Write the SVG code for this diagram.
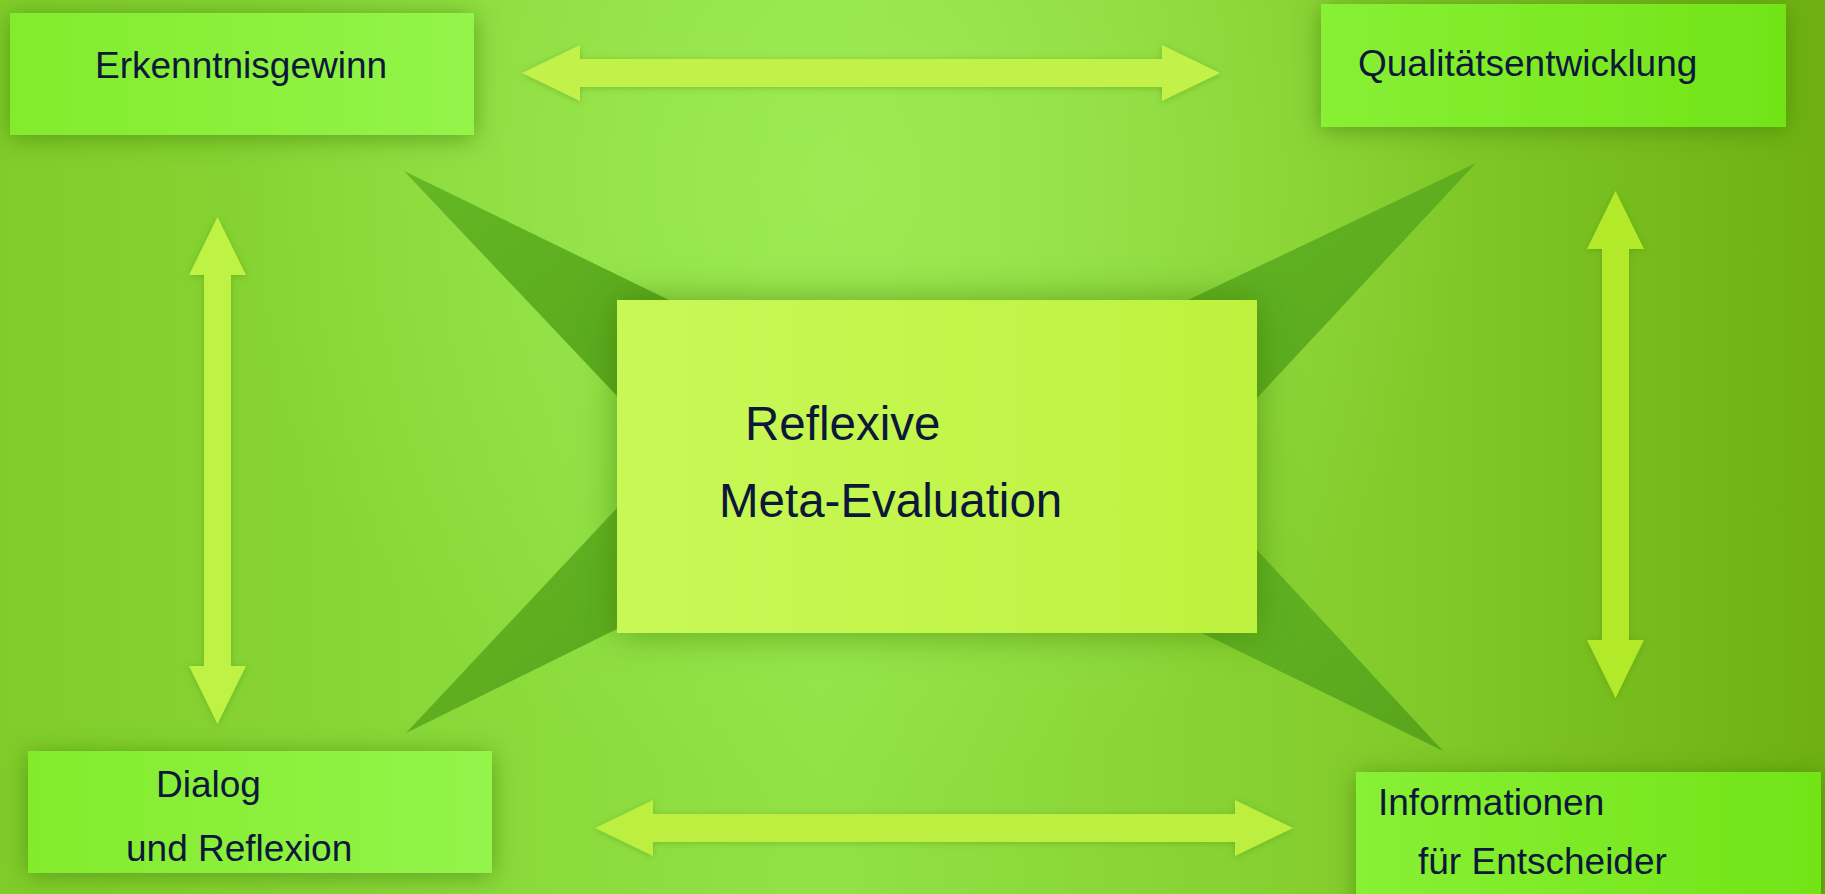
<svg xmlns="http://www.w3.org/2000/svg" width="1825" height="894" viewBox="0 0 1825 894">
<defs>
<style>
.lbl{font-family:"Liberation Sans",Arial,sans-serif;font-size:37px;fill:#0b1838}
.big{font-family:"Liberation Sans",Arial,sans-serif;font-size:47.5px;fill:#0b1838}
.nodeL{fill:url(#nodeGL);filter:url(#sh)}
.nodeR{fill:url(#nodeGR);filter:url(#sh)}
.spike{fill:url(#spikeG)}
</style>
<linearGradient id="bgH" x1="0" y1="0" x2="1" y2="0">
<stop offset="0" stop-color="#80cc2a"/>
<stop offset="0.45" stop-color="#92e246"/>
<stop offset="0.75" stop-color="#84cc2c"/>
<stop offset="1" stop-color="#6eb012"/>
</linearGradient>
<radialGradient id="bgR" cx="850" cy="180" r="620" gradientUnits="userSpaceOnUse">
<stop offset="0" stop-color="#a2ee5a" stop-opacity="0.7"/>
<stop offset="1" stop-color="#a2ee5a" stop-opacity="0"/>
</radialGradient>
<linearGradient id="nodeGL" x1="0" y1="0" x2="1" y2="0">
<stop offset="0" stop-color="#82ec2c"/>
<stop offset="1" stop-color="#94f44a"/>
</linearGradient>
<linearGradient id="nodeGR" x1="0" y1="0" x2="1" y2="0">
<stop offset="0" stop-color="#88f034"/>
<stop offset="1" stop-color="#72e418"/>
</linearGradient>
<linearGradient id="centerG" x1="0" y1="0" x2="1" y2="0">
<stop offset="0" stop-color="#c8f858"/>
<stop offset="1" stop-color="#bef23e"/>
</linearGradient>
<linearGradient id="spikeG" x1="0" y1="0" x2="1" y2="1">
<stop offset="0" stop-color="#64b824"/>
<stop offset="1" stop-color="#58a41c"/>
</linearGradient>
<filter id="sh" x="-20%" y="-40%" width="140%" height="180%">
<feDropShadow dx="0" dy="3" stdDeviation="12" flood-color="#3c7a08" flood-opacity="0.6"/>
</filter>
<filter id="shC" x="-20%" y="-30%" width="140%" height="160%">
<feDropShadow dx="0" dy="0" stdDeviation="18" flood-color="#3c7a08" flood-opacity="0.6"/>
</filter>
<filter id="shA" x="-10%" y="-10%" width="120%" height="120%">
<feDropShadow dx="0" dy="1" stdDeviation="3" flood-color="#4a8a10" flood-opacity="0.4"/>
</filter>
</defs>
<rect x="0" y="0" width="1825" height="894" fill="url(#bgH)"/>
<rect x="0" y="0" width="1825" height="894" fill="url(#bgR)"/>

<g id="spikes">
<polygon class="spike" points="404,171 669,300 700,420 617,396"/>
<polygon class="spike" points="1476,163 1257,398 1150,420 1188,300"/>
<polygon class="spike" points="406,733 617,629 700,520 617,508"/>
<polygon class="spike" points="1443,751 1202,633 1150,520 1257,550"/>
</g>

<g id="connectors" filter="url(#shA)">
<polygon fill="#c2f24a" points="522,73 580,45 580,59 1162,59 1162,45 1220,73 1162,101 1162,87 580,87 580,101"/>
<polygon fill="#bcef40" points="595,828 653,800 653,814 1235,814 1235,800 1293,828 1235,856 1235,842 653,842 653,856"/>
<polygon fill="#bef244" points="217.5,217 246,275 231,275 231,666 246,666 217.5,724 189,666 204,666 204,275 189,275"/>
<polygon fill="#b2ea2a" points="1615.5,191 1644,249 1629,249 1629,640 1644,640 1615.5,698 1587,640 1602,640 1602,249 1587,249"/>
</g>

<g id="center">
<rect x="617" y="300" width="640" height="333" fill="url(#centerG)" filter="url(#shC)"/>
<text class="big" x="745" y="440">Reflexive</text>
<text class="big" x="719" y="517">Meta-Evaluation</text>
</g>

<g id="erkenntnisgewinn">
<rect class="nodeL" x="10" y="13" width="464" height="122"/>
<text class="lbl" x="95" y="78">Erkenntnisgewinn</text>
</g>

<g id="qualitaetsentwicklung">
<rect class="nodeR" x="1321" y="4" width="465" height="123"/>
<text class="lbl" x="1358" y="76">Qualitätsentwicklung</text>
</g>

<g id="dialog">
<rect class="nodeL" x="28" y="751" width="464" height="122"/>
<text class="lbl" x="156" y="797">Dialog</text>
<text class="lbl" x="126" y="861">und Reflexion</text>
</g>

<g id="informationen">
<rect class="nodeR" x="1356" y="772" width="465" height="140"/>
<text class="lbl" x="1378" y="815">Informationen</text>
<text class="lbl" x="1418" y="874">für Entscheider</text>
</g>
</svg>
